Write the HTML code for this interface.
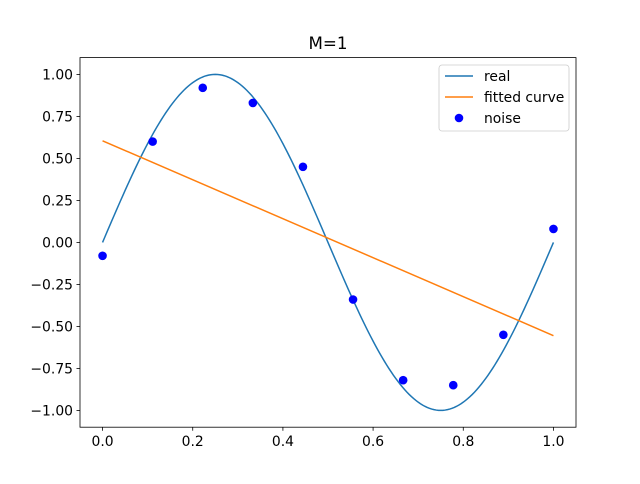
<!DOCTYPE html>
<html><head><meta charset="utf-8"><style>
body{margin:0;background:#fff;font-family:"DejaVu Sans","Liberation Sans",sans-serif}
</style></head><body>
<svg id="chart" width="640" height="480" xmlns="http://www.w3.org/2000/svg" font-family="DejaVu Sans, Liberation Sans, sans-serif"></svg>
<script>
const noiseX=[0,1/9,2/9,3/9,4/9,5/9,6/9,7/9,8/9,1];
const noiseY=[-0.08,0.60,0.92,0.83,0.45,-0.34,-0.82,-0.85,-0.55,0.08];
const fitCoef=[0.605,-1.16];
const xTicks=[0,0.2,0.4,0.6,0.8,1.0];
const xTickLabels=["0.0","0.2","0.4","0.6","0.8","1.0"];
const yTicks=[-1,-0.75,-0.5,-0.25,0,0.25,0.5,0.75,1];
const yTickLabels=["−1.00","−0.75","−0.50","−0.25","0.00","0.25","0.50","0.75","1.00"];
const L=80,R=576,T=57.6,B=427.2,xmin=-0.05,xmax=1.05,ymin=-1.1,ymax=1.1;
const sx=v=>L+(v-xmin)/(xmax-xmin)*(R-L);
const sy=v=>B-(v-ymin)/(ymax-ymin)*(B-T);
const svg=document.getElementById('chart');const NS='http://www.w3.org/2000/svg';
function mk(tag,attrs,parent){const e=document.createElementNS(NS,tag);for(const k in attrs)e.setAttribute(k,attrs[k]);(parent||svg).appendChild(e);return e;}
let t=mk('text',{x:328,y:49,'font-size':16.7,'text-anchor':'middle',fill:'#000'});t.textContent='M=1';


xTicks.forEach((v,i)=>{mk('line',{x1:sx(v),x2:sx(v),y1:B,y2:B+3.5,stroke:'#000','stroke-width':0.8});
 const tx=mk('text',{x:sx(v),y:B+19,'font-size':13.9,'text-anchor':'middle'});tx.textContent=xTickLabels[i];
 
 });
yTicks.forEach((v,i)=>{mk('line',{x1:L-3.5,x2:L,y1:sy(v),y2:sy(v),stroke:'#000','stroke-width':0.8});
 const tx=mk('text',{x:L-7,y:sy(v)+5,'font-size':13.9,'text-anchor':'end'});tx.textContent=yTickLabels[i];
 
 });
let d='';for(let i=0;i<=200;i++){const x=i/200;d+=(i?'L':'M')+sx(x).toFixed(2)+','+sy(Math.sin(2*Math.PI*x)).toFixed(2);}
const real=mk('path',{d:d,fill:'none',stroke:'#1f77b4','stroke-width':1.5});


const fit=mk('line',{x1:sx(0),y1:sy(fitCoef[0]),x2:sx(1),y2:sy(fitCoef[0]+fitCoef[1]),stroke:'#ff7f0e','stroke-width':1.5});


noiseX.forEach((x,i)=>{const c=mk('circle',{cx:sx(x),cy:sy(noiseY[i]),r:4.3,fill:'#0000ff'});
 
 });
const frame=mk('rect',{x:L,y:T,width:R-L,height:B-T,fill:'none',stroke:'#000','stroke-width':0.8});


const lg=mk('g',{});


mk('rect',{x:439,y:65,width:130,height:66,rx:3,fill:'#fff',stroke:'#ccc','stroke-width':0.8},lg);
mk('line',{x1:445,x2:473,y1:76,y2:76,stroke:'#1f77b4','stroke-width':1.5},lg);
mk('line',{x1:445,x2:473,y1:97,y2:97,stroke:'#ff7f0e','stroke-width':1.5},lg);
mk('circle',{cx:459,cy:118,r:4.3,fill:'#0000ff'},lg);
[['real',81],['fitted curve',102],['noise',123]].forEach(([s,y])=>{const e=mk('text',{x:484,y:y,'font-size':13.9},lg);e.textContent=s;
 
 });
</script>
</body></html>
